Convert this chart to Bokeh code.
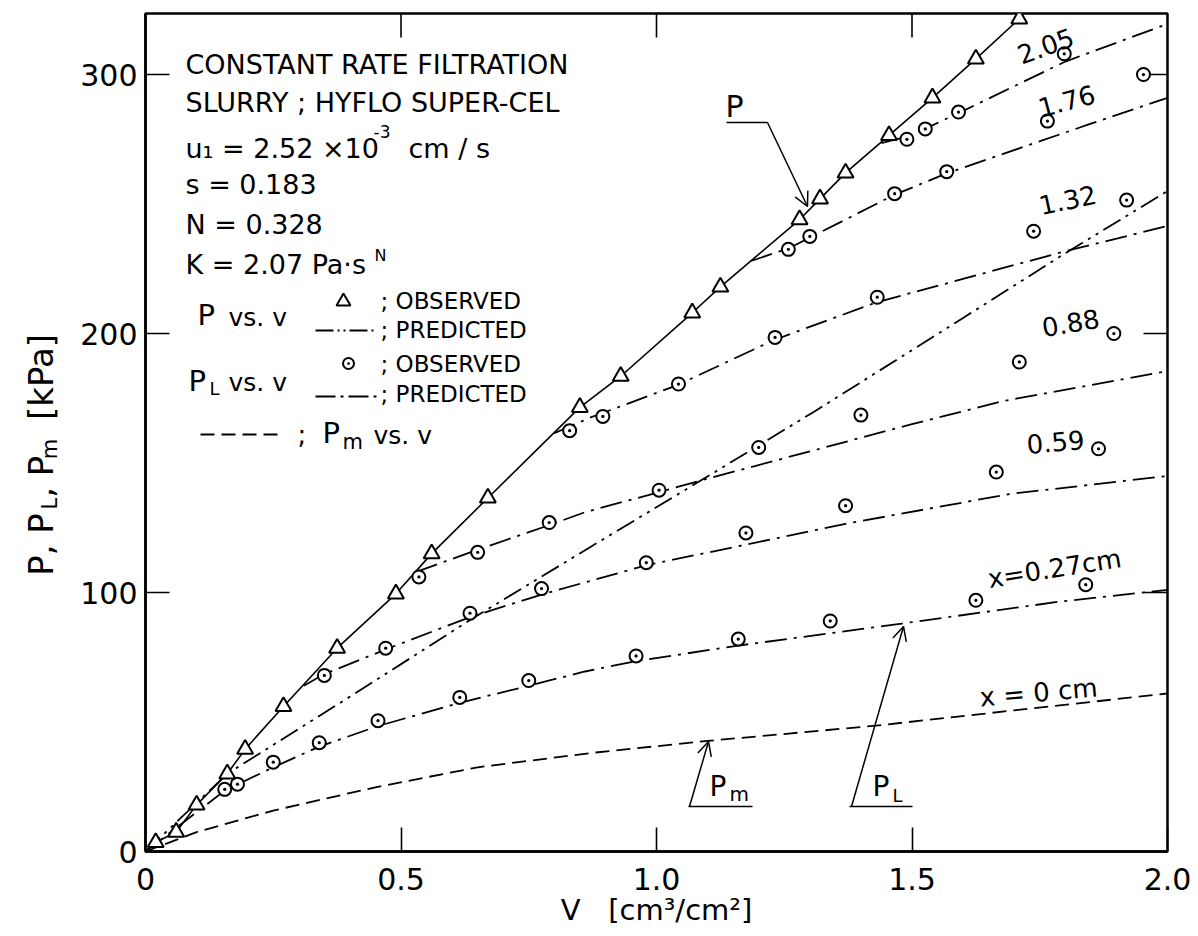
import math
from bokeh.plotting import figure
from bokeh.layouts import row
from bokeh.models import Range1d, FixedTicker, Label, Arrow, OpenHead
from bokeh.embed import file_html
from bokeh.resources import INLINE

# ---------------- data: filtrate volume v [cm3/cm2] vs pressure [kPa] ----------------
# total pressure P, observed
p_obs_v = [0.02, 0.06, 0.10, 0.16, 0.195, 0.27, 0.375, 0.49, 0.56, 0.67, 0.85,
           0.93, 1.07, 1.125, 1.28, 1.32, 1.37, 1.455, 1.54, 1.625, 1.71]
p_obs_p = [3.5, 7.5, 18.0, 30.0, 39.5, 56.0, 78.5, 99.5, 115.0, 136.5, 171.5,
           183.5, 208.0, 218.0, 244.0, 252.0, 262.0, 276.5, 291.0, 306.0, 321.5]

# curve drawn through the P observations
p_fit_v = [0.0] + p_obs_v
p_fit_p = [0.0] + p_obs_p

# P, predicted
p_pred_v = [0.0, 0.16, 0.41, 0.64, 0.87, 1.11, 1.31, 1.60, 1.80, 2.0]
p_pred_p = [0.0, 30.0, 61.0, 90.0, 117.5, 146.0, 170.0, 206.0, 231.0, 255.0]

# medium pressure Pm (x = 0 cm)
pm_v = [0.0, 0.10, 0.25, 0.45, 0.65, 0.87, 1.10, 1.43, 1.70, 2.0]
pm_p = [0.0, 7.5, 15.8, 24.8, 32.5, 38.0, 42.7, 48.6, 54.5, 61.0]

# liquid pressure PL at distance x from the medium: predicted curves
pl_pred = {
    "0.27": ([0.0, 0.155, 0.25, 0.34, 0.456, 0.617, 0.75, 0.86, 0.96, 1.16, 1.48, 1.79, 2.0],
             [0.0, 23.5, 32.5, 40.5, 48.5, 57.5, 64.0, 69.5, 73.5, 79.5, 88.0, 96.5, 101.0]),
    "0.59": ([0.31, 0.35, 0.47, 0.635, 0.78, 0.98, 1.37, 1.69, 2.0],
             [64.0, 68.5, 78.0, 90.5, 99.5, 110.5, 126.5, 138.0, 145.0]),
    "0.88": ([0.53, 0.65, 0.79, 0.86, 1.0, 1.11, 1.5, 1.68, 2.0],
             [108.0, 116.5, 126.0, 131.0, 138.5, 144.5, 165.0, 174.0, 185.5]),
    "1.32": ([0.80, 0.87, 1.04, 1.23, 1.43, 1.795, 2.0],
             [161.5, 167.5, 180.0, 197.5, 212.0, 231.5, 241.5]),
    "1.76": ([1.185, 1.26, 1.30, 1.465, 1.57, 1.85, 2.0],
             [228.0, 233.0, 237.0, 253.5, 262.0, 281.0, 291.0]),
    "2.05": ([1.44, 1.49, 1.525, 1.59, 1.80, 2.0],
             [273.5, 276.0, 279.0, 285.0, 305.0, 319.5]),
}

# liquid pressure PL: observed
pl_obs = {
    "0.27": ([0.155, 0.18, 0.25, 0.34, 0.455, 0.615, 0.75, 0.96, 1.16, 1.34, 1.625, 1.84],
             [24.0, 26.0, 34.5, 42.0, 50.5, 59.5, 66.0, 75.5, 82.0, 89.0, 97.0, 103.0]),
    "0.59": ([0.35, 0.47, 0.635, 0.775, 0.98, 1.175, 1.37, 1.665, 1.865],
             [68.0, 78.5, 92.0, 101.5, 111.5, 123.0, 133.5, 146.5, 155.5]),
    "0.88": ([0.535, 0.65, 0.79, 1.005, 1.2, 1.40, 1.71, 1.895],
             [106.0, 115.5, 127.0, 139.5, 156.0, 168.5, 189.0, 200.0]),
    "1.32": ([0.83, 0.895, 1.043, 1.232, 1.432, 1.738, 1.92],
             [162.5, 168.0, 180.5, 198.5, 214.0, 239.5, 251.5]),
    "1.76": ([1.258, 1.30, 1.466, 1.568, 1.765, 1.953],
             [232.5, 237.5, 254.0, 262.5, 282.0, 300.0]),
    "2.05": ([1.49, 1.526, 1.591, 1.798],
             [275.0, 279.0, 285.5, 308.0]),
}

x_ticks = [0.0, 0.5, 1.0, 1.5, 2.0]
x_tick_labels = {0.0: "0", 0.5: "0.5", 1.0: "1.0", 1.5: "1.5", 2.0: "2.0"}
y_ticks = [0, 100, 200, 300]
top_ticks = [0.5, 1.0, 1.5]
right_ticks = [100, 200, 300]

# ---------------- page geometry ----------------
W, H = 1198, 936
SIDE = 60                                    # strip holding the rotated y title
FL, FR, FT, FB = 145, 1167, 13, 851          # frame edges in page pixels
V_MAX = 2.0
P_MAX = (FB - FT) / 2.59                     # 2.59 px per kPa
PX_V = (FR - FL) / V_MAX                     # px per unit v
PX_P = (FB - FT) / P_MAX                     # px per kPa
TICK = 24

FONT = "DejaVu Sans"
DASH_DOT = "22 7 3 7"
DASH_DOT_DOT = "20 6 3 6 3 6"
DASHED = "14 7"
NB = "\u00a0"

p = figure(width=W - SIDE, height=H, x_range=Range1d(0, V_MAX), y_range=Range1d(0, P_MAX),
           output_backend="svg", toolbar_location=None,
           min_border_left=FL - SIDE, min_border_right=W - FR,
           min_border_top=FT, min_border_bottom=H - FB,
           background_fill_color="white", border_fill_color="white")
p.grid.visible = False
p.outline_line_color = "black"
p.outline_line_width = 2.5

for ax, ticks in ((p.xaxis[0], x_ticks), (p.yaxis[0], y_ticks)):
    ax.ticker = FixedTicker(ticks=ticks)
    ax.major_tick_in = TICK
    ax.major_tick_out = 0
    ax.major_tick_line_width = 1.6
    ax.major_tick_line_color = "black"
    ax.minor_tick_line_color = None
    ax.axis_line_width = 2.5
    ax.axis_line_color = "black"
    ax.major_label_text_font = FONT
    ax.major_label_text_font_size = "30px"
    ax.major_label_text_color = "black"

xa = p.xaxis[0]
xa.major_label_overrides = x_tick_labels
xa.major_label_standoff = 16
xa.axis_label = "V" + NB * 3 + "[cm\u00b3/cm\u00b2]"
xa.axis_label_text_font = FONT
xa.axis_label_text_font_style = "normal"
xa.axis_label_text_font_size = "29px"
xa.axis_label_text_color = "black"
xa.axis_label_standoff = 0

ya = p.yaxis[0]
ya.major_label_standoff = 8

# inward ticks on the top and right edges of the box
p.segment(x0=top_ticks, y0=[P_MAX] * 3, x1=top_ticks, y1=[P_MAX - TICK / PX_P] * 3,
          line_color="black", line_width=1.6)
p.segment(x0=[V_MAX] * 3, y0=right_ticks, x1=[V_MAX - TICK / PX_V] * 3, y1=right_ticks,
          line_color="black", line_width=1.6)


def px2data(px, py):
    return ((px - FL) / PX_V, (FB - py) / PX_P)


def put(text, px, py, size, align="left", angle=0.0, baseline="middle"):
    x, y = px2data(px, py)
    p.add_layout(Label(x=x, y=y, text=text, text_font=FONT, text_font_size=f"{size}px",
                       text_align=align, text_baseline=baseline, text_color="black",
                       angle=math.radians(angle)))


def seg(x0, y0, x1, y1, dash="solid", width=1.5):
    a, b = px2data(x0, y0)
    c, d = px2data(x1, y1)
    p.line([a, c], [b, d], line_color="black", line_width=width, line_dash=dash)


def arrow(x0, y0, x1, y1):
    a, b = px2data(x0, y0)
    c, d = px2data(x1, y1)
    p.add_layout(Arrow(x_start=a, y_start=b, x_end=c, y_end=d, line_width=1.5,
                       end=OpenHead(size=14, line_width=1.5)))


# ---------------- curves ----------------
LW = 1.8
p.line(pm_v, pm_p, line_color="black", line_width=LW, line_dash=DASHED)
p.line(p_pred_v, p_pred_p, line_color="black", line_width=LW, line_dash=DASH_DOT_DOT)
for key, (vv, pp) in pl_pred.items():
    p.line(vv, pp, line_color="black", line_width=LW, line_dash=DASH_DOT)
p.line(p_fit_v, p_fit_p, line_color="black", line_width=1.6)

# observations
for key, (vv, pp) in pl_obs.items():
    p.scatter(vv, pp, marker="circle_dot", size=13, line_color="black", line_width=2,
              fill_color="white")
p.scatter(p_obs_v, p_obs_p, marker="triangle", size=16, line_color="black", line_width=2,
          fill_color="white")

# ---------------- curve labels ----------------
put("2.05", 1045, 45, 26, "center", 20)
put("1.76", 1066, 100, 26, "center", 15)
put("1.32", 1067, 199, 26, "center", 12)
put("0.88", 1070, 322, 26, "center", 10)
put("0.59", 1055, 441, 26, "center", 5)
put("x=0.27cm", 1054, 568, 26, "center", 9)
put("x = 0 cm", 1038, 692, 26, "center", 5)

# P pointer
put("P", 734, 106, 30, "center")
seg(726, 122, 767, 122)
arrow(767, 122, 807, 206)

# Pm pointer
put("P", 709, 786, 28)
put("m", 729, 793, 20)
seg(688, 806, 752, 806)
arrow(689, 806, 708, 741)

# PL pointer
put("P", 872, 786, 28)
put("L", 892, 795, 18)
seg(849, 806, 912, 806)
arrow(851, 806, 903, 626)

# ---------------- description block ----------------
BS = 27
put("CONSTANT RATE FILTRATION", 185, 64, BS)
put("SLURRY ; HYFLO SUPER-CEL", 185, 102, BS)
put("u\u2081 = 2.52 \u00d710", 185, 148, BS)
put("-3", 373, 131, 17)
put("cm / s", 408, 148, BS)
put("s = 0.183", 185, 184, BS)
put("N = 0.328", 185, 224, BS)
put("K = 2.07  Pa\u00b7s", 185, 264, BS)
put("N", 374, 255, 16)

# legend rows
LS = 23
put("P", 197, 314, 29)
put("vs. v", 228, 317, 25)
tx, ty = px2data(343, 301)
p.scatter([tx], [ty], marker="triangle", size=14, line_color="black", line_width=2,
          fill_color="white")
put("; OBSERVED", 380, 300, LS)
seg(315, 330, 377, 330, "18 4 2 4 2 4", 2)
put("; PREDICTED", 380, 329, LS)

put("P", 188, 380, 29)
put("L", 209, 388, 18)
put("vs. v", 228, 382, 25)
cx, cy = px2data(348, 363)
p.scatter([cx], [cy], marker="circle_dot", size=11, line_color="black", line_width=2,
          fill_color="white")
put("; OBSERVED", 380, 363, LS)
seg(315, 396, 377, 396, "20 5 3 5", 2)
put("; PREDICTED", 380, 393, LS)

seg(200, 434, 277, 434, "14 7", 2)
put(";", 297, 434, 26)
put("P", 322, 432, 29)
put("m", 342, 441, 21)
put("vs. v", 373, 435, 25)

# ---------------- rotated y title in a narrow strip ----------------
side = figure(width=SIDE, height=H, x_range=Range1d(0, SIDE), y_range=Range1d(0, H),
              output_backend="svg", toolbar_location=None,
              min_border_left=0, min_border_right=0, min_border_top=0, min_border_bottom=0,
              x_axis_location=None, y_axis_location=None,
              background_fill_color="white", border_fill_color="white")
side.grid.visible = False
side.outline_line_color = None


def put_side(text, px, py, size):
    side.add_layout(Label(x=px, y=H - py, text=text, text_font=FONT,
                          text_font_size=f"{size}px", text_align="left",
                          text_baseline="middle", text_color="black",
                          angle=math.pi / 2))


yb = 628
put_side("P," + NB + "P", 40, yb, 34)
put_side("L", 49, yb - 74, 21)
put_side("," + NB + "P", 40, yb - 87, 34)
put_side("m", 49, yb - 130, 21)
put_side("[kPa]", 40, yb - 174, 34)

layout = row(side, p, spacing=0)
open("out.html", "w").write(file_html(layout, INLINE))
